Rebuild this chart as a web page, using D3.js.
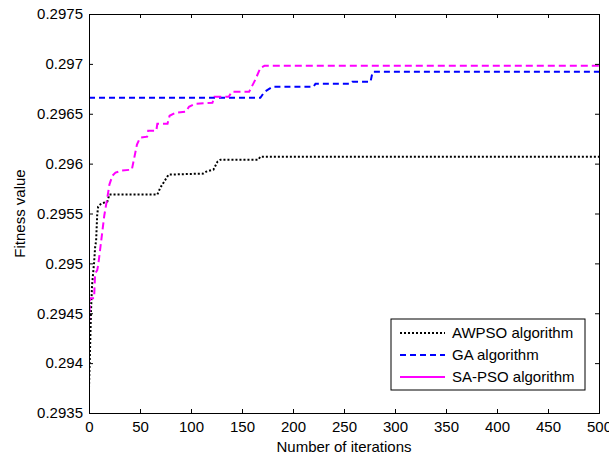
<!DOCTYPE html>
<html>
<head>
<meta charset="utf-8">
<script src="https://cdn.jsdelivr.net/npm/d3@7/dist/d3.min.js"></script>
<style>
    body { margin: 0; background: #fff; }
    text { font-family: Arial, "Liberation Sans", sans-serif; fill: #000; }
</style>
</head>
<body>
<script>
// tick labels
const iterTicks = [0, 50, 100, 150, 200, 250, 300, 350, 400, 450, 500];
const fitTicks = [0.2935, 0.294, 0.2945, 0.295, 0.2955, 0.296, 0.2965, 0.297, 0.2975];

// series (iteration, fitness)
const awpsoIter = [0, 1, 2, 3, 5, 6, 7, 8, 9, 12, 18, 20, 67, 70, 75, 78, 112, 115, 122, 126, 129, 166, 168, 500];
const awpsoFit = [0.29375, 0.29413, 0.29453, 0.29478, 0.29501, 0.29516, 0.29523, 0.29548, 0.29557, 0.29560, 0.29562, 0.29569,
    0.29569, 0.29576, 0.29584, 0.29589, 0.29590, 0.29592, 0.29594, 0.29602, 0.29604, 0.29604, 0.29607, 0.29607];

const gaIter = [0, 168, 172, 180, 220, 222, 256, 258, 276, 278, 500];
const gaFit = [0.29666, 0.29666, 0.29672, 0.29677, 0.29677, 0.29680, 0.29680, 0.29682, 0.29682, 0.29692, 0.29692];

const sapsoIter = [0, 1, 5, 6, 8, 9, 12, 15, 18, 20, 23, 26, 32, 42, 44, 47, 50, 57, 58, 66, 67, 77, 79, 85, 95, 98,
    104, 121, 123, 137, 140, 157, 163, 168, 172, 500];
const sapsoFit = [0.2944, 0.29465, 0.29465, 0.2949, 0.29493, 0.29498, 0.29523, 0.29548, 0.29566, 0.29579, 0.29588,
    0.29591, 0.29593, 0.29594, 0.29604, 0.29619, 0.29626, 0.29627, 0.29633, 0.29633, 0.2964, 0.2964, 0.29648, 0.29651,
    0.29652, 0.29657, 0.2966, 0.29661, 0.29667, 0.29667, 0.29672, 0.29672, 0.29684, 0.29696, 0.29698, 0.29698];

const seriesNames = ["AWPSO algorithm", "GA algorithm", "SA-PSO algorithm"];

const width = 609, height = 456;
const margin = { top: 14, right: 10, bottom: 43, left: 89 };

const svg = d3.select("body").append("svg")
    .attr("width", width)
    .attr("height", height);

const x = d3.scaleLinear().domain([0, 500]).range([margin.left, width - margin.right]);
const y = d3.scaleLinear().domain([0.2935, 0.2975]).range([height - margin.bottom, margin.top]);

const series = [
    { name: seriesNames[0], xs: awpsoIter, ys: awpsoFit, color: "#000", dash: "2,2", legendDash: "2,2" },
    { name: seriesNames[1], xs: gaIter, ys: gaFit, color: "#0000ff", dash: "6,4", legendDash: "6,4" },
    { name: seriesNames[2], xs: sapsoIter, ys: sapsoFit, color: "#ff00ff", dash: "7,4", legendDash: null }
];

svg.append("clipPath").attr("id", "plot")
    .append("rect")
    .attr("x", x(0)).attr("y", y(0.2975))
    .attr("width", x(500) - x(0)).attr("height", y(0.2935) - y(0.2975));

const line = d3.line()
    .x(function(d) { return x(d[0]); })
    .y(function(d) { return y(d[1]); });

svg.append("g")
    .attr("clip-path", "url(#plot)")
    .selectAll("path")
    .data(series)
    .enter().append("path")
    .attr("fill", "none")
    .attr("stroke", function(d) { return d.color; })
    .attr("stroke-width", 2)
    .attr("stroke-dasharray", function(d) { return d.dash; })
    .attr("d", function(d) { return line(d.xs.map(function(v, i) { return [v, d.ys[i]]; })); });

// axes with inward ticks, MATLAB style box
const fmt = function(d) { return String(+d.toFixed(4)); };

const axBottom = svg.append("g")
    .attr("transform", "translate(0," + y(0.2935) + ")")
    .call(d3.axisBottom(x).tickValues(iterTicks).tickSize(-4).tickPadding(8).tickFormat(fmt));
const axLeft = svg.append("g")
    .attr("transform", "translate(" + x(0) + ",0)")
    .call(d3.axisLeft(y).tickValues(fitTicks).tickSize(-4).tickPadding(6).tickFormat(fmt));
const axTop = svg.append("g")
    .attr("transform", "translate(0," + y(0.2975) + ")")
    .call(d3.axisTop(x).tickValues(iterTicks).tickSize(-4).tickFormat(""));
const axRight = svg.append("g")
    .attr("transform", "translate(" + x(500) + ",0)")
    .call(d3.axisRight(y).tickValues(fitTicks).tickSize(-4).tickFormat(""));

[axBottom, axLeft, axTop, axRight].forEach(function(g) {
    g.selectAll("path.domain").attr("stroke", "#000").attr("stroke-width", 1);
    g.selectAll("line").attr("stroke", "#000");
    g.selectAll("text").style("font-size", "15px").attr("fill", "#000");
});

svg.append("text")
    .attr("x", (x(0) + x(500)) / 2)
    .attr("y", 452)
    .attr("text-anchor", "middle")
    .style("font-size", "15px")
    .text("Number of iterations");

svg.append("text")
    .attr("transform", "translate(25," + (y(0.2935) + y(0.2975)) / 2 + ") rotate(-90)")
    .attr("text-anchor", "middle")
    .style("font-size", "15px")
    .text("Fitness value");

// legend
const legend = svg.append("g");
legend.append("rect")
    .attr("x", 391).attr("y", 319)
    .attr("width", 194).attr("height", 71)
    .attr("fill", "#fff")
    .attr("stroke", "#000");

const rows = legend.selectAll("g.row")
    .data(series)
    .enter().append("g")
    .attr("class", "row")
    .attr("transform", function(d, i) { return "translate(0," + (333 + i * 22) + ")"; });

rows.append("line")
    .attr("x1", 400).attr("x2", 445)
    .attr("stroke", function(d) { return d.color; })
    .attr("stroke-width", 2)
    .attr("stroke-dasharray", function(d) { return d.legendDash; });

rows.append("text")
    .attr("x", 452)
    .attr("dy", "0.35em")
    .style("font-size", "15px")
    .text(function(d) { return d.name; });
</script>
</body>
</html>
